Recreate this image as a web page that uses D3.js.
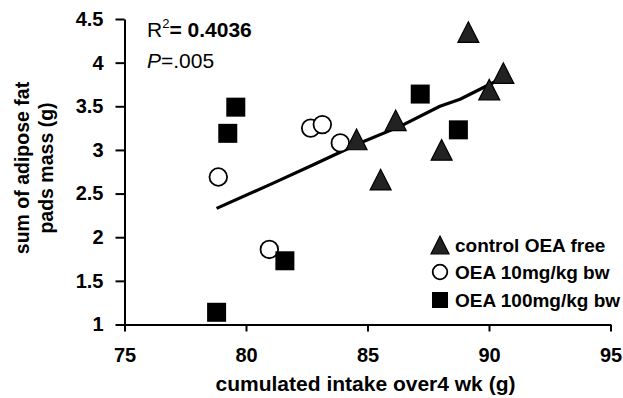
<!DOCTYPE html>
<html><head><meta charset="utf-8">
<script src="https://cdn.jsdelivr.net/npm/d3@7/dist/d3.min.js"></script>
<style>
body{margin:0;background:#fff;}
svg{display:block;}
text{font-family:"Liberation Sans",Arial,Helvetica,sans-serif;}
</style></head>
<body>
<svg id="chart" width="623" height="398"></svg>
<script>
// ---- data ----
const xTicks = [75, 80, 85, 90, 95];
const yTicks = [1, 1.5, 2, 2.5, 3, 3.5, 4, 4.5];
const yTickLabels = ["1", "1.5", "2", "2.5", "3", "3.5", "4", "4.5"];

const controlX = [84.55, 89.15, 90.59, 90.01, 86.16, 88.05, 85.54];
const controlY = [3.12, 4.35, 3.88, 3.69, 3.34, 3.00, 2.66];

const oea10X = [78.86, 82.66, 83.14, 83.88, 80.96];
const oea10Y = [2.69, 3.25, 3.29, 3.08, 1.86];

const oea100X = [79.58, 79.25, 87.17, 88.74, 81.60, 78.79];
const oea100Y = [3.49, 3.19, 3.64, 3.23, 1.73, 1.14];

const trendX = [78.79, 81.12, 82.77, 84.69, 86.34, 87.98, 88.81, 90.45];
const trendY = [2.33, 2.62, 2.83, 3.08, 3.27, 3.50, 3.58, 3.81];

const legendLabels = ["control OEA free", "OEA 10mg/kg bw", "OEA 100mg/kg bw"];
const xTitle = "cumulated intake over4 wk (g)";
const yTitle = ["sum of adipose fat", "pads mass (g)"];

// ---- chart ----
const svg = d3.select("#chart");
const x = d3.scaleLinear().domain([75, 95]).range([124.5, 610.5]);
const y = d3.scaleLinear().domain([1, 4.5]).range([324.5, 19]);

const tickFont = "bold 20px 'Liberation Sans', Arial, sans-serif";

// axes
const gx = svg.append("g").attr("transform", `translate(0,${y(1)})`)
  .call(d3.axisBottom(x).tickValues(xTicks).tickSize(7).tickSizeOuter(0).tickPadding(16).tickFormat(d3.format("d")));
const gy = svg.append("g").attr("transform", `translate(${x(75)},0)`)
  .call(d3.axisLeft(y).tickValues(yTicks).tickSize(9).tickSizeOuter(0).tickPadding(12).tickFormat((d, i) => yTickLabels[i]));
[gx, gy].forEach(g => {
  g.select(".domain").attr("stroke", "#000").attr("stroke-width", 2);
  g.selectAll(".tick line").attr("stroke", "#000").attr("stroke-width", 2);
  g.selectAll(".tick text").attr("fill", "#000").style("font", tickFont);
});

// trend line
const line = d3.line().x(d => x(d[0])).y(d => y(d[1])).curve(d3.curveLinear);
svg.append("path").datum(trendX.map((v, i) => [v, trendY[i]]))
  .attr("d", line).attr("fill", "none").attr("stroke", "#000").attr("stroke-width", 3.2)
  .attr("stroke-linejoin", "round").attr("stroke-linecap", "butt");

// marker helpers
function triPath(cx, cy, s) {
  const h = s * 0.98;
  return `M${cx - s / 2},${cy + h / 2}L${cx + s / 2},${cy + h / 2}L${cx},${cy - h / 2}Z`;
}
function drawTri(g, cx, cy, s) {
  g.append("path").attr("d", triPath(cx, cy, s)).attr("fill", "#222").attr("stroke", "#000").attr("stroke-width", 1.2).attr("stroke-linejoin", "miter");
}
function drawCirc(g, cx, cy, r) {
  g.append("circle").attr("cx", cx).attr("cy", cy).attr("r", r).attr("fill", "#fff").attr("stroke", "#000").attr("stroke-width", 1.8);
}
function drawSq(g, cx, cy, s) {
  g.append("rect").attr("x", cx - s / 2).attr("y", cy - s / 2).attr("width", s).attr("height", s).attr("fill", "#000");
}

const pts = svg.append("g");
oea10X.forEach((v, i) => drawCirc(pts, x(v), y(oea10Y[i]), 8.8));
oea100X.forEach((v, i) => drawSq(pts, x(v), y(oea100Y[i]), 19));
controlX.forEach((v, i) => drawTri(pts, x(v), y(controlY[i]), 21));

// annotation
const ann = svg.append("text").attr("x", 147).attr("y", 37).style("font-size", "21px").attr("fill", "#000");
ann.append("tspan").text("R");
ann.append("tspan").attr("dy", -9).style("font-size", "13px").text("2");
ann.append("tspan").attr("dy", 9).style("font-weight", "bold").text("= 0.4036");
const ann2 = svg.append("text").attr("x", 147).attr("y", 68).style("font-size", "21px").attr("fill", "#000");
ann2.append("tspan").style("font-style", "italic").text("P");
ann2.append("tspan").text("=.005");

// legend
const leg = svg.append("g");
const legY = [245, 272, 300];
const legTextX = 455, legMarkX = 440;
drawTri(leg, legMarkX, legY[0], 18);
drawCirc(leg, legMarkX, legY[1], 7.3);
drawSq(leg, legMarkX, legY[2], 16);
legendLabels.forEach((t, i) => {
  leg.append("text").attr("x", legTextX).attr("y", legY[i]).attr("dy", "0.35em")
    .style("font", "bold 19px 'Liberation Sans', Arial, sans-serif").attr("fill", "#000").text(t);
});

// axis titles
svg.append("text").attr("x", 365.5).attr("y", 391).attr("text-anchor", "middle")
  .style("font", "bold 21px 'Liberation Sans', Arial, sans-serif").attr("fill", "#000").text(xTitle);
const yt = svg.append("text").attr("transform", "translate(22,168) rotate(-90)").attr("text-anchor", "middle")
  .style("font", "bold 19.5px 'Liberation Sans', Arial, sans-serif").attr("fill", "#000");
yTitle.forEach((t, i) => yt.append("tspan").attr("x", 0).attr("y", i * 24).attr("dy", "0.35em").text(t));
</script>
</body></html>
